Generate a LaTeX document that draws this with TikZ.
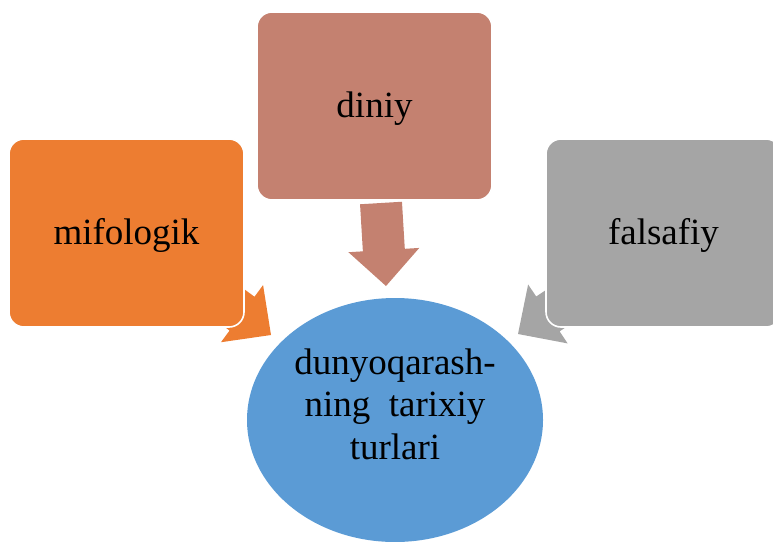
\documentclass[tikz,border=0pt]{standalone}
\usepackage{fontspec}
\setmainfont{Liberation Serif}
\usetikzlibrary{calc,shapes.geometric}
\definecolor{orng}{HTML}{ED7D31}
\definecolor{brwn}{HTML}{C48170}
\definecolor{gry}{HTML}{A5A5A5}
\definecolor{blu}{HTML}{5B9BD5}
\tikzset{
  boxnode/.style={draw=white, line width=1.6pt, rounded corners=15pt,
    minimum width=235pt, minimum height=188pt, inner sep=0pt,
    text height=28pt, text depth=5pt, font=\fontsize{37}{42.5}\selectfont},
  ellnode/.style={ellipse, fill=blu, minimum width=296pt, minimum height=244pt, inner sep=0pt},
  elltext/.style={align=center, inner sep=0pt, font=\fontsize{37}{42.5}\selectfont}
}
\newcommand\blockarrow[3]{%
  \coordinate (tmpc) at ($(#2)!36pt!(#1)$);
  \fill[#3] ($(#1)!21pt!90:(#2)$) -- ($(tmpc)!21pt!90:(#2)$) -- ($(tmpc)!35.5pt!90:(#2)$)
    -- (#2) -- ($(tmpc)!35.5pt!-90:(#2)$) -- ($(tmpc)!21pt!-90:(#2)$) -- ($(#1)!21pt!-90:(#2)$) -- cycle;
}
\begin{document}
\begin{tikzpicture}[x=1pt, y=-1pt]
\useasboundingbox (0,0) rectangle (773,541);
\clip (0,0) rectangle (773,541);
% arrow end points
\coordinate (bs) at (381,203);
\coordinate (bt) at (386,286);
\coordinate (os) at (195,279);
\coordinate (ot) at (271,335);
\coordinate (gs) at (597,281);
\coordinate (gt) at (518,334);
\blockarrow{bs}{bt}{brwn}
\blockarrow{os}{ot}{orng}
\blockarrow{gs}{gt}{gry}
% boxes
\node[boxnode, fill=orng] (mif) at (126.5,233) {mifologik};
\node[boxnode, fill=brwn] (din) at (374.5,106) {diniy};
\node[boxnode, fill=gry] (fal) at (663.5,233) {falsafiy};
% ellipse
\node[ellnode] (ell) at (395,420) {};
\node[elltext] (elltxt) at ($(ell.center)+(0,-16)$) {dunyoqarash-\\ning\ \ tarixiy\\turlari};
\end{tikzpicture}
\end{document}
